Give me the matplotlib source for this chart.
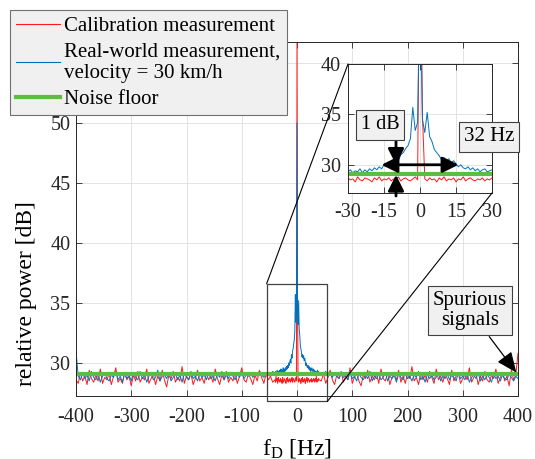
#!/usr/bin/env python3

"""
Doppler spectrum: calibration vs real-world measurement, with zoom inset
"""
import numpy as np
import matplotlib
matplotlib.use('Agg')
import matplotlib.pyplot as plt
from matplotlib.patches import Rectangle, ConnectionPatch
from matplotlib.lines import Line2D

plt.rcParams['font.family'] = ['Liberation Serif', 'DejaVu Serif']
plt.rcParams['mathtext.fontset'] = 'custom'
plt.rcParams['mathtext.rm'] = 'Liberation Serif'
plt.rcParams['mathtext.it'] = 'Liberation Serif:italic'
plt.rcParams['axes.unicode_minus'] = False

# frequency grid [Hz] (coarse outside, 1 Hz around the carrier)
freq_left = np.arange(-400, -40, 4)
freq_mid = np.arange(-40, 41, 1)
freq_right = np.arange(44, 401, 4)

# calibration measurement [dB]
calib_left = [28.6, 28.3, 29.2, 28.5, 28.9, 28.2, 29.4, 28.7, 28.4, 29.0,
              28.5, 29.5, 28.3, 28.8, 28.6, 29.1, 28.2, 28.9, 29.6, 28.4,
              28.7, 28.3, 29.2, 28.6, 28.9, 28.1, 29.0, 28.5, 29.3, 28.4,
              28.8, 28.6, 29.5, 28.3, 28.7, 29.1, 28.2, 28.9, 28.5, 29.4,
              28.6, 28.0, 29.0, 28.7, 29.3, 28.4, 28.8, 28.5, 29.7, 28.3,
              28.9, 28.6, 29.1, 28.2, 28.7, 29.4, 28.5, 28.8, 28.3, 29.2,
              28.6, 28.9, 28.4, 29.5, 28.7, 28.2, 29.0, 28.6, 29.3, 28.4,
              28.8, 28.5, 29.2, 28.3, 28.9, 29.6, 28.6, 28.4, 29.1, 28.7,
              28.2, 29.0, 28.5, 29.4, 28.8, 28.3, 29.1, 28.6, 28.9, 28.4]
calib_mid = [28.6, 28.4, 28.9, 28.5, 28.7, 28.3, 28.8, 28.5, 28.6, 28.4,
             28.7, 28.5, 28.6, 28.3, 28.8, 28.5, 28.4, 28.7, 28.6, 28.5,
             28.3, 28.7, 28.5, 28.8, 28.4, 28.6, 28.5, 28.7, 28.4, 28.6,
             28.5, 28.8, 28.4, 28.6, 28.7, 28.5, 28.4, 28.6, 28.8, 28.5,
             57.0,
             35.0, 28.6, 28.4, 28.7, 28.5, 28.6, 28.3, 28.7, 28.5, 28.8,
             28.4, 28.6, 28.5, 28.7, 28.3, 28.6, 28.5, 28.8, 28.4, 28.6,
             28.7, 28.5, 28.4, 28.6, 28.5, 28.7, 28.4, 28.6, 28.5, 28.7,
             28.6, 28.4, 28.7, 28.5, 28.9, 28.4, 28.6, 28.5, 28.7, 28.6]
calib_right = [28.5, 29.1, 28.3, 28.8, 29.4, 28.6, 28.2, 29.0, 28.7, 29.3,
               28.4, 28.9, 28.6, 29.6, 28.3, 28.8, 29.2, 28.5, 28.1, 29.0,
               28.7, 29.4, 28.4, 28.9, 28.6, 29.1, 28.3, 29.5, 28.7, 28.5,
               29.2, 28.2, 28.8, 29.0, 28.6, 29.4, 28.4, 28.9, 28.3, 29.1,
               28.7, 29.7, 28.5, 28.8, 28.2, 29.2, 28.6, 29.0, 28.4, 29.3,
               28.8, 28.3, 29.5, 28.6, 28.9, 28.4, 29.1, 28.7, 28.2, 29.4,
               28.5, 28.9, 29.2, 28.3, 28.7, 29.0, 28.6, 29.6, 28.4, 28.8,
               29.1, 28.2, 28.9, 28.5, 29.3, 28.6, 28.4, 29.0, 28.7, 29.5,
               28.3, 28.8, 29.2, 28.5, 28.9, 28.1, 29.4, 28.6, 29.0, 30.8]

# real-world measurement, 30 km/h [dB]
real_left = [31.0, 28.9, 28.6, 29.2, 28.7, 29.0, 28.5, 29.3, 28.8, 28.6,
             29.1, 28.4, 28.9, 29.2, 28.7, 28.5, 29.0, 28.8, 29.3, 28.6,
             28.9, 28.4, 29.1, 28.7, 29.0, 28.5, 29.2, 28.8, 28.6, 29.3,
             28.7, 29.0, 28.4, 28.9, 29.1, 28.6, 28.8, 29.4, 28.5, 28.9,
             29.0, 28.7, 29.2, 28.5, 28.8, 29.1, 28.6, 29.0, 28.4, 29.2,
             28.8, 28.6, 29.3, 28.7, 28.9, 28.5, 29.1, 28.8, 29.0, 28.6,
             29.2, 28.7, 28.9, 28.5, 29.1, 28.8, 29.3, 28.6, 29.0, 28.7,
             29.2, 28.9, 28.6, 29.1, 28.8, 29.3, 28.7, 29.0, 28.9, 29.2,
             28.8, 29.1, 28.9, 29.3, 29.0, 28.8, 29.2, 29.0, 29.1, 29.3]
real_mid = [29.1, 29.3, 29.0, 29.2, 29.4, 29.1, 29.3, 29.0, 29.4, 29.2,
            29.3, 29.5, 29.2, 29.4, 29.3, 29.6, 29.2, 29.5, 29.3, 29.6,
            29.4, 29.7, 29.5, 29.8, 29.6, 30.0, 29.8, 30.1, 30.3, 30.0,
            30.7, 30.4, 31.0, 31.2, 31.6, 31.9, 32.6, 35.7, 33.4, 34.2,
            50.0,
            34.5, 33.2, 35.2, 32.8, 32.3, 31.5, 31.2, 30.9, 30.5, 30.7,
            30.4, 30.6, 30.2, 30.4, 30.1, 29.8, 30.0, 29.7, 29.6, 29.8,
            29.5, 29.7, 29.4, 29.6, 29.3, 29.5, 29.6, 29.3, 29.4, 29.5,
            29.2, 29.4, 29.1, 29.3, 29.0, 29.2, 29.4, 29.1, 29.3, 29.2]
real_right = [29.2, 29.0, 29.3, 28.9, 29.1, 28.8, 29.2, 28.9, 28.7, 29.1,
              28.8, 29.0, 28.6, 29.2, 28.7, 28.9, 28.5, 29.1, 28.8, 28.6,
              29.0, 28.7, 29.3, 28.5, 28.9, 28.7, 29.1, 28.6, 28.8, 29.2,
              28.5, 28.9, 28.7, 29.0, 28.4, 29.1, 28.8, 28.6, 29.2, 28.7,
              28.9, 28.5, 29.0, 28.8, 29.3, 28.6, 28.9, 28.4, 29.1, 28.7,
              29.0, 28.6, 28.8, 29.2, 28.5, 28.9, 28.7, 29.1, 28.6, 29.0,
              28.8, 28.5, 29.2, 28.7, 28.9, 28.6, 29.1, 28.4, 28.8, 29.0,
              28.7, 29.2, 28.5, 28.9, 28.6, 29.0, 28.8, 28.4, 29.1, 28.7,
              28.9, 28.5, 29.0, 28.7, 28.6, 29.1, 28.8, 28.5, 28.9, 28.7]

noise_floor = 29.1

y_ticks = [30, 35, 40, 45, 50, 55]
y_ticklabels = ['30', '35', '40', '45', '50', '']   # 55 sits under the legend

freq = np.concatenate([freq_left, freq_mid, freq_right])
calib = np.concatenate([calib_left, calib_mid, calib_right])
real = np.concatenate([real_left, real_mid, real_right])

red = '#ff1a1a'
blue = '#0072bd'
green = '#5bbd45'
dark = '#262626'
boxface = '#f0f0f0'

fig = plt.figure(figsize=(5.35, 4.59), dpi=100)


def style_axes(a):
    a.grid(True, color='#dedede', linewidth=0.6)
    a.set_axisbelow(True)
    a.tick_params(direction='in', length=4, width=0.6, colors=dark,
                  top=True, right=True, labelsize=14.5)
    for s in a.spines.values():
        s.set_color(dark)
        s.set_linewidth(0.7)


# main axes
ax = fig.add_axes([76 / 535, 1 - 396 / 459, 442 / 535, 354 / 459])
ax.plot(freq, calib, color=red, lw=0.7)
ax.plot(freq, real, color=blue, lw=0.7)
ax.plot([-400, 400], [noise_floor, noise_floor], color=green, lw=3)
ax.set_xlim(-400, 400)
ax.set_ylim(27.25, 56.75)
ax.set_xticks(np.arange(-400, 401, 100))
ax.set_yticks(y_ticks)
ax.set_yticklabels(y_ticklabels)
style_axes(ax)
ax.tick_params(axis='x', pad=9)
ax.tick_params(axis='y', pad=4)
ax.set_xlabel('f$_\\mathrm{D}$ [Hz]', fontsize=17, labelpad=2)
ax.set_ylabel('relative power [dB]', fontsize=17)
ax.yaxis.set_label_coords(-0.088, 0.29)
ax.xaxis.set_label_coords(0.5, -0.115)

# zoom box
ax.add_patch(Rectangle((-55, 26.8), 110, 9.8, fill=False, edgecolor='#404040',
                       lw=0.9, clip_on=False, zorder=4))

# spurious signals note
ax.annotate('', xy=(397, 29.2), xytext=(348, 32.2),
            arrowprops=dict(arrowstyle='-|>,head_length=0.7,head_width=0.3',
                            color='k', lw=0.9, shrinkA=0, shrinkB=0,
                            mutation_scale=18), annotation_clip=False, zorder=6)
ax.text(313, 34.4, 'Spurious\nsignals', fontsize=15, ha='center', va='center',
        linespacing=1.05, zorder=6,
        bbox=dict(boxstyle='square,pad=0.25', facecolor=boxface,
                  edgecolor='#404040', lw=0.8))

# inset
axins = fig.add_axes([348 / 535, 1 - 193 / 459, 144 / 535, 129 / 459])
axins.plot(freq_mid, calib_mid, color=red, lw=0.7)
axins.plot(freq_mid, real_mid, color=blue, lw=0.7)
axins.plot([-30, 30], [noise_floor, noise_floor], color=green, lw=3)
axins.set_xlim(-30, 30)
axins.set_ylim(27.2, 40)
axins.set_xticks([-30, -15, 0, 15, 30])
axins.set_yticks([30, 35, 40])
style_axes(axins)
axins.tick_params(axis='x', pad=7)
axins.tick_params(axis='y', pad=5)

arrow = dict(arrowstyle='-|>,head_length=0.6,head_width=0.3', color='k',
             lw=2, shrinkA=0, shrinkB=0, mutation_scale=16)
axins.annotate('', xy=(-10, 30.0), xytext=(-10, 32.6), arrowprops=arrow,
               annotation_clip=False)
axins.annotate('', xy=(-10, 29.0), xytext=(-10, 26.9), arrowprops=arrow,
               annotation_clip=False)
axins.annotate('', xy=(16, 30.0), xytext=(-16, 30.0), annotation_clip=False,
               arrowprops=dict(arrowstyle='<|-|>,head_length=0.6,head_width=0.3',
                               color='k', lw=2, shrinkA=0, shrinkB=0,
                               mutation_scale=16))
box = dict(boxstyle='square,pad=0.25', facecolor=boxface, edgecolor='#404040', lw=0.8)
axins.text(-16.7, 33.95, '1 dB', fontsize=14.5, ha='center', va='center',
           bbox=box, clip_on=False)
axins.text(28.75, 32.76, '32 Hz', fontsize=15, ha='center', va='center',
           bbox=box, clip_on=False)

# connector lines between zoom box and inset
for xa, xb in [((-55, 36.6), (0, 1)), ((55, 26.8), (1, 0))]:
    con = ConnectionPatch(xyA=xa, coordsA=ax.transData, xyB=xb,
                          coordsB=axins.transAxes, color='k', lw=0.8)
    fig.add_artist(con)

# legend
handles = [Line2D([], [], color=red, lw=0.8),
           Line2D([], [], color=blue, lw=0.8),
           Line2D([], [], color=green, lw=3)]
labels = ['Calibration measurement',
          'Real-world measurement,\nvelocity = 30 km/h',
          'Noise floor']
leg = fig.legend(handles, labels, loc='upper left',
                 bbox_to_anchor=(10 / 535, 1 - 10 / 459), borderaxespad=0,
                 fontsize=15, handlelength=2.1, handletextpad=0.2,
                 borderpad=0.3, labelspacing=0.3, fancybox=False,
                 framealpha=1, facecolor=boxface, edgecolor='#707070')
leg.get_frame().set_linewidth(0.8)
for t in leg.get_texts():
    t.set_linespacing(1.22)

fig.savefig('out.png', dpi=100)
